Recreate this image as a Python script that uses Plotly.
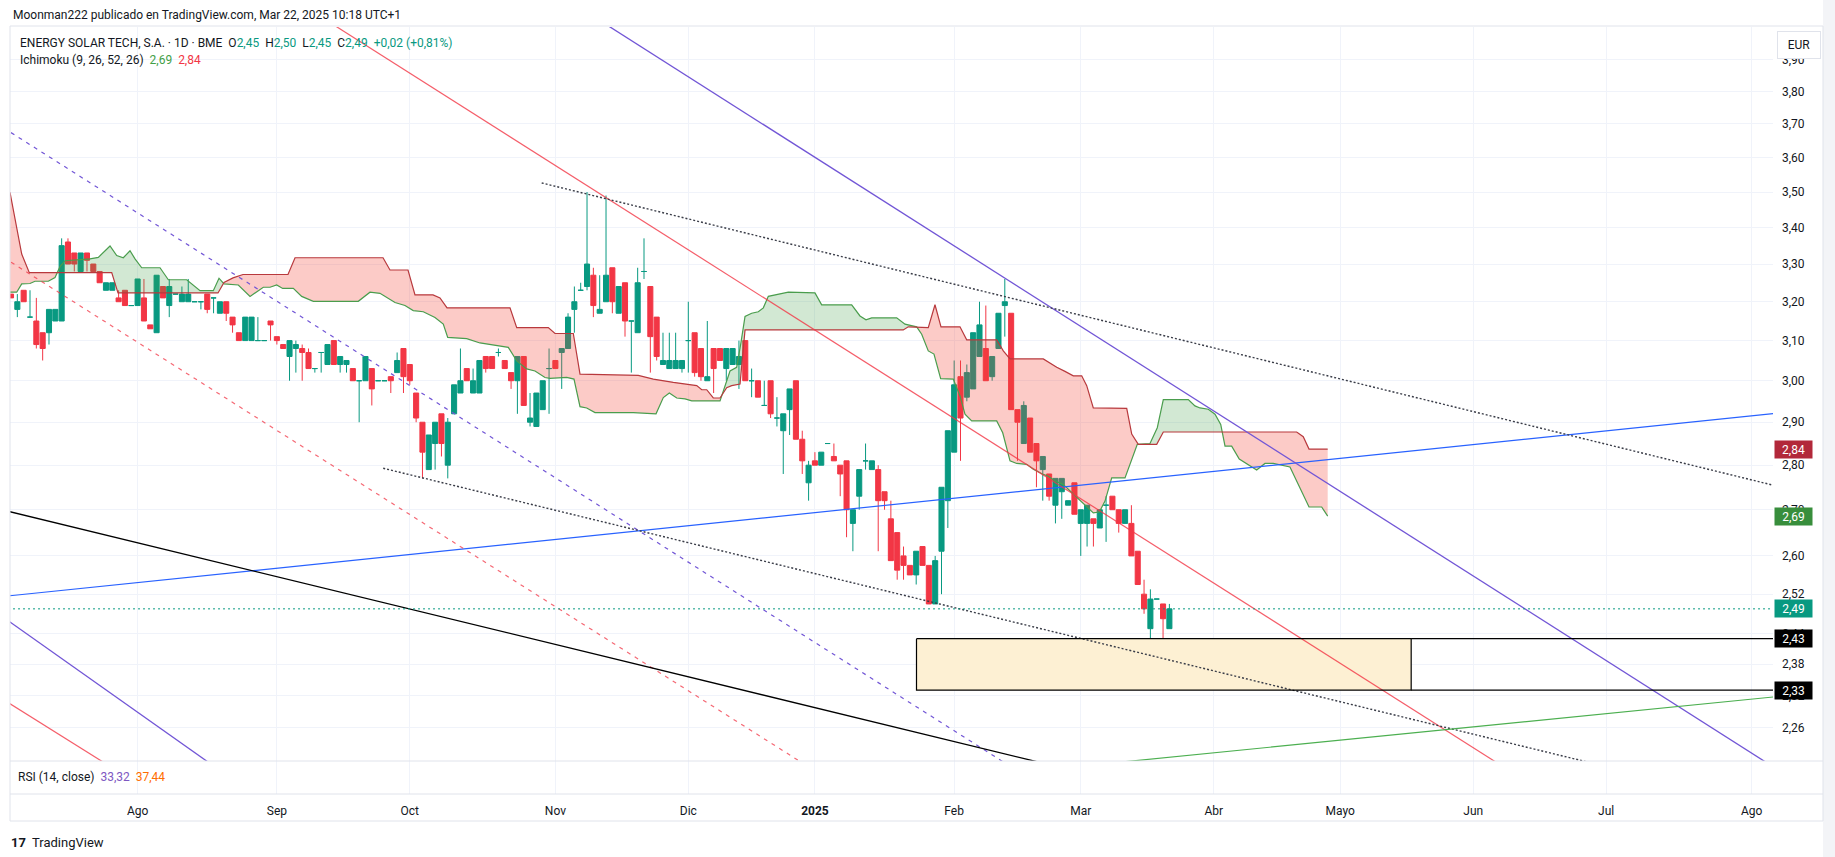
import numpy as np
import plotly.graph_objects as go

# ---------------- data (bar index 0 = first visible session, Jul 2024) ----------------
month_ticks = [20, 42, 63, 86, 107, 127, 149, 169, 190, 210, 231, 252, 275]
month_labels = ['Ago', 'Sep', 'Oct', 'Nov', 'Dic', '<b>2025</b>', 'Feb', 'Mar', 'Abr', 'Mayo', 'Jun', 'Jul', 'Ago']

price_ticks = [3.90, 3.80, 3.70, 3.60, 3.50, 3.40, 3.30, 3.20, 3.10, 3.00, 2.90, 2.80,
               2.70, 2.60, 2.52, 2.44, 2.38, 2.32, 2.26]

opens = [3.22, 3.18, 3.23, 3.16, 3.15, 3.12, 3.12, 3.15, 3.15, 3.36, 3.33, 3.28, 3.33, 3.30, 3.28, 3.23, 3.23, 3.21, 3.23, 3.19,
         3.19, 3.21, 3.14, 3.12, 3.24, 3.19, 3.22, 3.20, 3.20, 3.20, 3.20, 3.22, 3.21, 3.17, 3.20, 3.16, 3.12, 3.10, 3.10, 3.10,
         3.10, 3.15, 3.11, 3.09, 3.06, 3.08, 3.08, 3.07, 3.03, 3.07, 3.04, 3.10, 3.04, 3.04, 3.03, 3.00, 3.00, 3.03, 3.00, 3.00,
         3.01, 3.02, 3.08, 3.04, 2.97, 2.90, 2.79, 2.85, 2.92, 2.80, 2.92, 2.97, 3.03, 2.97, 2.97, 3.06, 3.06, 3.07, 3.05, 3.02,
         3.00, 3.06, 2.90, 2.89, 2.93, 3.03, 3.05, 3.07, 3.08, 3.18, 3.23, 3.24, 3.27, 3.17, 3.20, 3.29, 3.17, 3.25, 3.15, 3.12,
         3.28, 3.24, 3.16, 3.04, 3.03, 3.03, 3.03, 3.10, 3.12, 3.08, 3.00, 3.08, 3.08, 3.03, 3.04, 3.04, 3.10, 3.00, 3.00, 2.94,
         3.00, 2.91, 2.88, 2.93, 3.00, 2.86, 2.76, 2.81, 2.80, 2.85, 2.82, 2.80, 2.81, 2.67, 2.73, 2.81, 2.79, 2.79, 2.74, 2.68,
         2.65, 2.60, 2.58, 2.56, 2.62, 2.58, 2.50, 2.61, 2.72, 2.83, 3.01, 2.96, 2.98, 3.06, 3.08, 3.01, 3.08, 3.19, 3.17, 2.93,
         2.85, 2.91, 2.85, 2.79, 2.78, 2.71, 2.74, 2.71, 2.76, 2.67, 2.67, 2.68, 2.66, 2.71, 2.73, 2.70, 2.67, 2.67, 2.61, 2.52,
         2.45, 2.51, 2.50, 2.45]
highs = [3.22, 3.22, 3.23, 3.23, 3.21, 3.12, 3.18, 3.18, 3.37, 3.37, 3.33, 3.33, 3.33, 3.30, 3.28, 3.25, 3.25, 3.23, 3.23, 3.19,
         3.26, 3.26, 3.14, 3.27, 3.24, 3.26, 3.22, 3.24, 3.26, 3.20, 3.20, 3.22, 3.21, 3.20, 3.20, 3.16, 3.12, 3.16, 3.16, 3.16,
         3.10, 3.15, 3.11, 3.09, 3.10, 3.10, 3.09, 3.08, 3.03, 3.07, 3.09, 3.10, 3.06, 3.05, 3.03, 3.00, 3.06, 3.03, 3.00, 3.00,
         3.01, 3.07, 3.08, 3.04, 2.97, 2.90, 2.87, 2.90, 2.92, 2.91, 2.99, 3.08, 3.03, 3.03, 3.05, 3.06, 3.06, 3.08, 3.05, 3.02,
         3.06, 3.06, 2.97, 2.97, 3.00, 3.08, 3.05, 3.08, 3.17, 3.24, 3.25, 3.50, 3.29, 3.27, 3.49, 3.29, 3.24, 3.25, 3.15, 3.29,
         3.37, 3.24, 3.16, 3.12, 3.12, 3.12, 3.05, 3.20, 3.12, 3.08, 3.15, 3.08, 3.08, 3.08, 3.08, 3.10, 3.10, 3.03, 3.00, 3.00,
         3.00, 2.96, 2.92, 2.98, 3.00, 2.88, 2.81, 2.83, 2.83, 2.85, 2.85, 2.80, 2.81, 2.70, 2.79, 2.85, 2.81, 2.80, 2.74, 2.72,
         2.65, 2.62, 2.58, 2.61, 2.62, 2.58, 2.60, 2.75, 2.88, 3.05, 3.05, 3.04, 3.12, 3.20, 3.19, 3.06, 3.17, 3.26, 3.17, 2.93,
         2.95, 2.91, 2.85, 2.82, 2.78, 2.77, 2.77, 2.72, 2.76, 2.70, 2.71, 2.68, 2.70, 2.73, 2.73, 2.70, 2.70, 2.71, 2.61, 2.55,
         2.53, 2.51, 2.50, 2.50]
lows = [3.21, 3.16, 3.20, 3.16, 3.08, 3.05, 3.09, 3.15, 3.15, 3.30, 3.28, 3.28, 3.28, 3.28, 3.25, 3.23, 3.23, 3.20, 3.19, 3.19,
        3.19, 3.15, 3.13, 3.12, 3.21, 3.16, 3.22, 3.20, 3.20, 3.20, 3.18, 3.17, 3.17, 3.17, 3.15, 3.12, 3.10, 3.10, 3.10, 3.10,
        3.10, 3.10, 3.09, 3.08, 3.00, 3.02, 3.00, 3.03, 3.02, 3.02, 3.04, 3.04, 3.02, 3.02, 3.00, 2.90, 3.00, 2.94, 3.00, 3.00,
        2.97, 3.02, 2.97, 2.99, 2.90, 2.77, 2.79, 2.79, 2.82, 2.77, 2.92, 2.97, 3.00, 2.97, 2.97, 3.02, 3.03, 3.06, 3.03, 2.98,
        2.92, 2.94, 2.89, 2.89, 2.93, 2.92, 3.03, 2.98, 3.08, 3.12, 3.23, 3.23, 3.16, 3.17, 3.20, 3.17, 3.17, 3.11, 3.02, 3.12,
        3.26, 3.02, 3.05, 3.04, 3.03, 3.03, 3.02, 3.02, 3.01, 3.00, 3.00, 2.97, 3.05, 3.00, 3.04, 2.98, 3.00, 2.96, 2.96, 2.94,
        2.91, 2.89, 2.78, 2.87, 2.86, 2.78, 2.72, 2.80, 2.80, 2.85, 2.81, 2.73, 2.64, 2.61, 2.70, 2.79, 2.79, 2.61, 2.70, 2.59,
        2.55, 2.55, 2.56, 2.54, 2.58, 2.50, 2.50, 2.52, 2.66, 2.83, 2.81, 2.95, 2.98, 3.06, 3.00, 3.00, 3.08, 3.11, 2.93, 2.81,
        2.85, 2.83, 2.75, 2.72, 2.72, 2.67, 2.68, 2.71, 2.69, 2.60, 2.62, 2.62, 2.66, 2.63, 2.70, 2.65, 2.67, 2.60, 2.54, 2.48,
        2.42, 2.51, 2.42, 2.45]
closes = [3.21, 3.20, 3.20, 3.16, 3.09, 3.08, 3.18, 3.18, 3.35, 3.30, 3.30, 3.33, 3.31, 3.28, 3.25, 3.25, 3.25, 3.20, 3.19, 3.19,
          3.26, 3.15, 3.13, 3.27, 3.21, 3.24, 3.22, 3.22, 3.22, 3.20, 3.20, 3.18, 3.21, 3.20, 3.17, 3.14, 3.10, 3.16, 3.16, 3.10,
          3.10, 3.14, 3.10, 3.08, 3.10, 3.09, 3.07, 3.03, 3.03, 3.07, 3.09, 3.04, 3.06, 3.05, 3.00, 3.00, 3.06, 2.98, 3.00, 3.00,
          3.00, 3.05, 3.01, 3.00, 2.91, 2.83, 2.87, 2.90, 2.85, 2.90, 2.99, 3.00, 3.00, 3.00, 3.05, 3.03, 3.03, 3.07, 3.03, 3.00,
          3.06, 2.94, 2.91, 2.97, 3.00, 3.03, 3.03, 3.08, 3.16, 3.20, 3.23, 3.30, 3.19, 3.18, 3.27, 3.20, 3.24, 3.15, 3.15, 3.25,
          3.28, 3.11, 3.06, 3.05, 3.05, 3.05, 3.05, 3.10, 3.02, 3.01, 3.01, 3.03, 3.05, 3.08, 3.08, 3.06, 3.00, 3.00, 2.96, 2.94,
          2.92, 2.91, 2.92, 2.98, 2.86, 2.81, 2.80, 2.80, 2.83, 2.85, 2.81, 2.78, 2.70, 2.70, 2.79, 2.81, 2.81, 2.72, 2.72, 2.59,
          2.57, 2.58, 2.56, 2.61, 2.58, 2.50, 2.59, 2.75, 2.88, 2.99, 2.91, 3.02, 3.12, 3.14, 3.00, 3.06, 3.17, 3.20, 2.93, 2.90,
          2.94, 2.83, 2.81, 2.82, 2.73, 2.77, 2.77, 2.72, 2.69, 2.70, 2.71, 2.67, 2.70, 2.71, 2.70, 2.67, 2.70, 2.60, 2.54, 2.49,
          2.51, 2.51, 2.47, 2.49]

# Ichimoku cloud outlines (bar index, price) - leading span A (green) and B (red)
span_a = [(-0.16, 3.225), (0.90, 3.225), (1.69, 3.247), (3.00, 3.248), (3.79, 3.254), (5.89, 3.254), (6.95, 3.264),
          (7.74, 3.293), (8.53, 3.309), (10.90, 3.311), (12.48, 3.314), (13.79, 3.318), (15.64, 3.349), (16.70, 3.323),
          (17.74, 3.317), (18.80, 3.336), (19.59, 3.314), (20.65, 3.290), (23.54, 3.290), (24.85, 3.258), (27.76, 3.258),
          (29.86, 3.229), (31.96, 3.229), (32.86, 3.262), (33.65, 3.247), (35.91, 3.244), (37.76, 3.214), (39.86, 3.238),
          (40.92, 3.238), (41.97, 3.244), (42.92, 3.235), (44.60, 3.235), (45.92, 3.214), (47.76, 3.201), (54.86, 3.201),
          (56.71, 3.225), (58.29, 3.222), (60.66, 3.198), (62.24, 3.190), (63.55, 3.177), (65.13, 3.174), (66.98, 3.159),
          (68.29, 3.142), (68.99, 3.108), (71.99, 3.105), (74.09, 3.094), (75.67, 3.090), (78.56, 3.083), (79.89, 3.049),
          (81.47, 3.029), (82.78, 3.024), (84.36, 3.008), (85.15, 3.006), (87.79, 3.008), (88.94, 3.004), (89.89, 2.937),
          (90.95, 2.934), (92.26, 2.923), (98.31, 2.923), (101.90, 2.920), (103.05, 2.959), (104.00, 2.970), (105.17, 2.958),
          (106.48, 2.956), (107.54, 2.951), (112.01, 2.951), (113.59, 3.024), (114.64, 3.033), (115.28, 3.091),
          (115.96, 3.162), (117.01, 3.170), (118.06, 3.174), (118.85, 3.184), (119.64, 3.214), (122.80, 3.225),
          (127.01, 3.223), (128.07, 3.192), (132.81, 3.192), (134.12, 3.163), (135.07, 3.153), (135.97, 3.158),
          (139.92, 3.158), (141.23, 3.142), (143.08, 3.135), (143.87, 3.116), (144.91, 3.074), (145.81, 3.066),
          (146.87, 3.005), (148.86, 3.004), (149.92, 2.963), (150.71, 2.919), (151.77, 2.903), (155.72, 2.903),
          (156.67, 2.875), (157.82, 2.810), (158.88, 2.804), (160.46, 2.802), (161.50, 2.791), (163.08, 2.779),
          (163.87, 2.775), (164.93, 2.764), (166.15, 2.757), (167.82, 2.735), (169.40, 2.715), (170.98, 2.693),
          (171.93, 2.695), (172.83, 2.719), (173.89, 2.771), (175.99, 2.771), (177.93, 2.848), (179.94, 2.850),
          (181.09, 2.887), (182.04, 2.954), (185.99, 2.954), (187.04, 2.939), (187.84, 2.934), (189.15, 2.931),
          (190.21, 2.919), (191.11, 2.895), (191.79, 2.844), (192.84, 2.844), (194.04, 2.814), (195.47, 2.800),
          (196.79, 2.789), (198.10, 2.804), (199.41, 2.804), (202.05, 2.796), (203.63, 2.749), (205.06, 2.706),
          (207.06, 2.706), (208.01, 2.686)]
span_b = [(-0.16, 3.499), (1.69, 3.327), (2.89, 3.277), (15.91, 3.277), (16.90, 3.223), (32.70, 3.223), (33.65, 3.251),
          (35.07, 3.263), (36.65, 3.272), (43.76, 3.272), (44.87, 3.317), (58.77, 3.317), (59.87, 3.284), (62.72, 3.284),
          (63.82, 3.218), (66.67, 3.218), (67.77, 3.210), (68.88, 3.184), (78.83, 3.184), (79.89, 3.133), (84.88, 3.133),
          (85.94, 3.118), (88.83, 3.118), (89.89, 3.016), (99.10, 3.013), (101.47, 3.004), (104.63, 2.996),
          (108.33, 2.988), (109.12, 2.978), (109.91, 2.978), (110.95, 2.958), (112.01, 2.958), (113.06, 2.983),
          (113.85, 2.988), (115.17, 2.992), (115.96, 3.127), (140.96, 3.127), (141.75, 3.135), (144.91, 3.133),
          (145.97, 3.192), (146.92, 3.135), (149.92, 3.135), (150.98, 3.102), (155.72, 3.102), (156.76, 3.074),
          (157.82, 3.054), (163.08, 3.054), (165.20, 3.033), (166.51, 3.023), (167.82, 3.012), (169.15, 3.012),
          (169.94, 2.988), (170.98, 2.934), (176.26, 2.933), (177.05, 2.872), (178.09, 2.848), (181.00, 2.848),
          (182.04, 2.877), (203.11, 2.877), (204.15, 2.866), (205.06, 2.837), (208.01, 2.837)]

# drawing tools: two anchor points (bar index, price) each
blue_line = [(0, 2.517), (280, 2.923)]
purple_line = [(93.05, 4.026), (280, 2.177)]
purple_line_low = [(0, 2.462), (40, 2.127)]
purple_dash = [(0, 3.674), (170, 2.104)]
red_line = [(40, 4.159), (280, 1.893)]
red_line_low = [(0, 2.303), (30, 2.090)]
red_dash = [(0, 3.305), (130, 2.160)]
black_line = [(0, 2.695), (170, 2.176)]
dotted_upper = [(83.84, 3.526), (280, 2.749)]
dotted_lower = [(58.8, 2.793), (280, 2.113)]
green_line = [(170, 2.191), (280, 2.319)]
zone_bars = [143.05, 221.2]
zone_prices = [2.33, 2.43]
last_price = 2.49

GREEN = '#089981'
RED = '#f23645'
GRID = '#f0f3fa'

fig = go.Figure()

# ---------------- cloud ----------------
ax, ay = zip(*span_a)
bx, by = zip(*span_b)
grid = np.union1d(ax, bx)
la = np.interp(grid, ax, np.log10(ay))
lb = np.interp(grid, bx, np.log10(by))
gx, ga, gb = [grid[0]], [la[0]], [lb[0]]
for k in range(1, len(grid)):
    d0 = la[k - 1] - lb[k - 1]
    d1 = la[k] - lb[k]
    if d0 * d1 < 0:
        t = d0 / (d0 - d1)
        xc = grid[k - 1] + t * (grid[k] - grid[k - 1])
        yc = la[k - 1] + t * (la[k] - la[k - 1])
        gx.append(xc); ga.append(yc); gb.append(yc)
    gx.append(grid[k]); ga.append(la[k]); gb.append(lb[k])
gx = np.array(gx)
ga = 10 ** np.array(ga)
gb = 10 ** np.array(gb)
lo = np.minimum(ga, gb)

def add(tr):
    fig.add_trace(tr)

NOLINE = dict(width=0, color='rgba(0,0,0,0)')
add(go.Scatter(x=gx, y=lo, mode='lines', line=NOLINE, hoverinfo='skip'))
add(go.Scatter(x=gx, y=ga, mode='lines', line=NOLINE, fill='tonexty',
               fillcolor='rgba(67,160,71,0.24)', hoverinfo='skip'))
add(go.Scatter(x=gx, y=lo, mode='lines', line=NOLINE, hoverinfo='skip'))
add(go.Scatter(x=gx, y=gb, mode='lines', line=NOLINE, fill='tonexty',
               fillcolor='rgba(244,67,54,0.28)', hoverinfo='skip'))
add(go.Scatter(x=list(ax), y=list(ay), mode='lines', line=dict(width=1.2, color='#4a9d4d'), hoverinfo='skip'))
add(go.Scatter(x=list(bx), y=list(by), mode='lines', line=dict(width=1.2, color='#b8393d'), hoverinfo='skip'))

# zone rectangle fill
add(go.Scatter(x=[zone_bars[0], zone_bars[1], zone_bars[1], zone_bars[0], zone_bars[0]],
               y=[zone_prices[1], zone_prices[1], zone_prices[0], zone_prices[0], zone_prices[1]],
               mode='lines', fill='toself', fillcolor='#fdf0d3', line=dict(width=0), hoverinfo='skip'))

# ---------------- candles ----------------
o = np.array(opens); h = np.array(highs); l = np.array(lows); c = np.array(closes)
idx = np.arange(len(o))
for mask, col in [(c >= o, GREEN), (c < o, RED)]:
    add(go.Candlestick(x=idx[mask], open=o[mask], high=h[mask], low=l[mask], close=c[mask],
                       increasing=dict(line=dict(color=col, width=1), fillcolor=col),
                       decreasing=dict(line=dict(color=col, width=1), fillcolor=col),
                       whiskerwidth=0, hoverinfo='skip'))

# ---------------- drawing lines ----------------
XMIN, XMAX = -6, 292

def seg(pts, ray=False):
    (i0, p0), (i1, p1) = pts
    s = (np.log10(p1) - np.log10(p0)) / (i1 - i0)
    xs = np.array([i0 if ray else XMIN, XMAX], dtype=float)
    ys = 10 ** (np.log10(p0) + s * (xs - i0))
    return xs, ys

for pts, color, width, dash, ray in [
    (blue_line, '#2962ff', 1.2, None, False),
    (purple_line, '#7256d6', 1.3, None, False),
    (purple_line_low, '#7256d6', 1.3, None, False),
    (purple_dash, '#7256d6', 1.2, '4px,5px', False),
    (red_line, 'rgba(242,54,69,0.8)', 1.2, None, False),
    (red_line_low, 'rgba(242,54,69,0.8)', 1.2, None, False),
    (red_dash, 'rgba(242,54,69,0.75)', 1.2, '4px,5px', False),
    (black_line, '#000000', 1.3, None, False),
    (dotted_upper, '#3a3d48', 1.4, '2px,2px', True),
    (dotted_lower, '#3a3d48', 1.4, '2px,2px', True),
    (green_line, '#4caf50', 1.2, None, False),
]:
    xs, ys = seg(pts, ray)
    add(go.Scatter(x=xs, y=ys, mode='lines', line=dict(color=color, width=width, dash=dash), hoverinfo='skip'))

add(go.Scatter(x=[zone_bars[0], zone_bars[1], zone_bars[1], zone_bars[0], zone_bars[0]],
               y=[zone_prices[1], zone_prices[1], zone_prices[0], zone_prices[0], zone_prices[1]],
               mode='lines', line=dict(color='#000000', width=1.2), hoverinfo='skip'))
for p in zone_prices:
    add(go.Scatter(x=[zone_bars[1], XMAX], y=[p, p], mode='lines', line=dict(color='#000000', width=1.2),
                   hoverinfo='skip'))
add(go.Scatter(x=[XMIN, XMAX], y=[last_price, last_price], mode='lines',
               line=dict(color=GREEN, width=1, dash='2px,3px'), hoverinfo='skip'))

# empty RSI pane (keeps the bottom time axis)
add(go.Scatter(x=[month_ticks[0]], y=[50], mode='markers', marker=dict(opacity=0), xaxis='x2', yaxis='y2',
               hoverinfo='skip'))

# ---------------- layout ----------------
PX_L, PX_R, PX_T, PX_B = 10, 1773, 27, 794
def px(xp):
    return (xp - PX_L) / (PX_R - PX_L)
def py(yp):
    return (PX_B - yp) / (PX_B - PX_T)

SPLIT = py(761)
xr = [-0.16, 278.36]
common_x = dict(range=xr, tickvals=month_ticks, ticktext=month_labels, showgrid=True, gridcolor=GRID,
                gridwidth=1, zeroline=False, showline=False, ticks='', domain=[0, 1],
                rangeslider=dict(visible=False))

fig.update_layout(
    width=1835, height=857, margin=dict(l=10, r=62, t=27, b=63),
    paper_bgcolor='white', plot_bgcolor='white', showlegend=False, hovermode=False,
    boxgap=0.2, boxgroupgap=0,
    font=dict(family='Roboto, Arial, sans-serif', size=12, color='#131722'),
    xaxis=dict(**common_x, anchor='y', showticklabels=False),
    xaxis2=dict(**common_x, anchor='y2', showticklabels=True, ticklabelstandoff=8,
                tickfont=dict(size=12, color='#131722')),
    yaxis=dict(type='log', range=[np.log10(2.199), np.log10(4.005)], side='right', anchor='x',
               domain=[SPLIT, 1], tickvals=price_ticks,
               ticktext=[f'{v:.2f}'.replace('.', ',') for v in price_ticks],
               showgrid=True, gridcolor=GRID, zeroline=False, ticks='', ticklabelstandoff=8,
               tickfont=dict(size=12, color='#131722')),
    yaxis2=dict(range=[0, 100], domain=[0, SPLIT], anchor='x2', showticklabels=False, showgrid=False,
                zeroline=False, ticks=''),
)

XR_EDGE = px(1823)
shapes = []
for yy in [26, 761, 794, 821]:
    shapes.append(dict(type='line', xref='paper', yref='paper', x0=0, x1=XR_EDGE, y0=py(yy), y1=py(yy),
                       line=dict(color='#e0e3eb', width=1)))
shapes.append(dict(type='line', xref='paper', yref='paper', x0=0, x1=0, y0=py(26), y1=py(821),
                   line=dict(color='#e0e3eb', width=1)))
shapes.append(dict(type='line', xref='paper', yref='paper', x0=XR_EDGE, x1=XR_EDGE, y0=py(26), y1=py(821),
                   line=dict(color='#e0e3eb', width=1)))
shapes.append(dict(type='rect', xref='paper', yref='paper', x0=XR_EDGE, x1=px(1836), y0=py(0), y1=py(857),
                   fillcolor='#f3f4f7', line=dict(width=0), layer='below'))
fig.update_layout(shapes=shapes)

sp = '\u00a0'
T = '#089981'
ann = []
ann.append(dict(text='Moonman222 publicado en TradingView.com, Mar 22, 2025 10:18 UTC+1',
                x=px(10.5), y=py(15), xref='paper', yref='paper', xanchor='left', yanchor='middle',
                showarrow=False, font=dict(size=12, color='#131722')))
ann.append(dict(text=f'ENERGY SOLAR TECH, S.A. · 1D · BME{sp}{sp}O<span style="color:{T}">2,45</span>{sp}{sp}'
                     f'H<span style="color:{T}">2,50</span>{sp}{sp}L<span style="color:{T}">2,45</span>{sp}{sp}'
                     f'C<span style="color:{T}">2,49</span>{sp}{sp}<span style="color:{T}">+0,02 (+0,81%)</span>',
                x=px(18), y=py(42.7), xref='paper', yref='paper', xanchor='left', yanchor='middle',
                showarrow=False, font=dict(size=12, color='#131722')))
ann.append(dict(text=f'Ichimoku (9, 26, 52, 26){sp}{sp}<span style="color:#43a047">2,69</span>{sp}{sp}'
                     f'<span style="color:#f23645">2,84</span>',
                x=px(18), y=py(60), xref='paper', yref='paper', xanchor='left', yanchor='middle',
                showarrow=False, font=dict(size=12, color='#131722')))
ann.append(dict(text=f'RSI (14, close){sp}{sp}<span style="color:#7e57c2">33,32</span>{sp}{sp}'
                     f'<span style="color:#ff6d00">37,44</span>',
                x=px(16), y=py(777), xref='paper', yref='paper', xanchor='left', yanchor='middle',
                showarrow=False, font=dict(size=12, color='#131722')))
ann.append(dict(text='EUR', x=px(1799), y=py(45), xref='paper', yref='paper', xanchor='center',
                yanchor='middle', showarrow=False, font=dict(size=12, color='#131722'),
                bgcolor='white', bordercolor='#e0e3eb', borderwidth=1, borderpad=2, width=38, height=22))
for val, txt, bg in [(span_b[-1][1], '2,84', '#b2283a'), (span_a[-1][1], '2,69', '#388e3c'),
                     (last_price, '2,49', GREEN), (zone_prices[1], '2,43', '#000000'),
                     (zone_prices[0], '2,33', '#000000')]:
    ann.append(dict(text=txt, x=px(1774), y=np.log10(val), xref='paper', yref='y', xanchor='left',
                    yanchor='middle', showarrow=False, font=dict(size=12, color='white'),
                    bgcolor=bg, borderpad=2, width=33, height=13))
ann.append(dict(text='<b>17</b>', x=px(9), y=py(842), xref='paper', yref='paper', xanchor='left',
                yanchor='middle', showarrow=False, font=dict(size=13, color='#131722')))
ann.append(dict(text='TradingView', x=px(30), y=py(842), xref='paper', yref='paper', xanchor='left',
                yanchor='middle', showarrow=False, font=dict(size=13, color='#131722')))
fig.update_layout(annotations=ann)

fig.write_html('out.html')
